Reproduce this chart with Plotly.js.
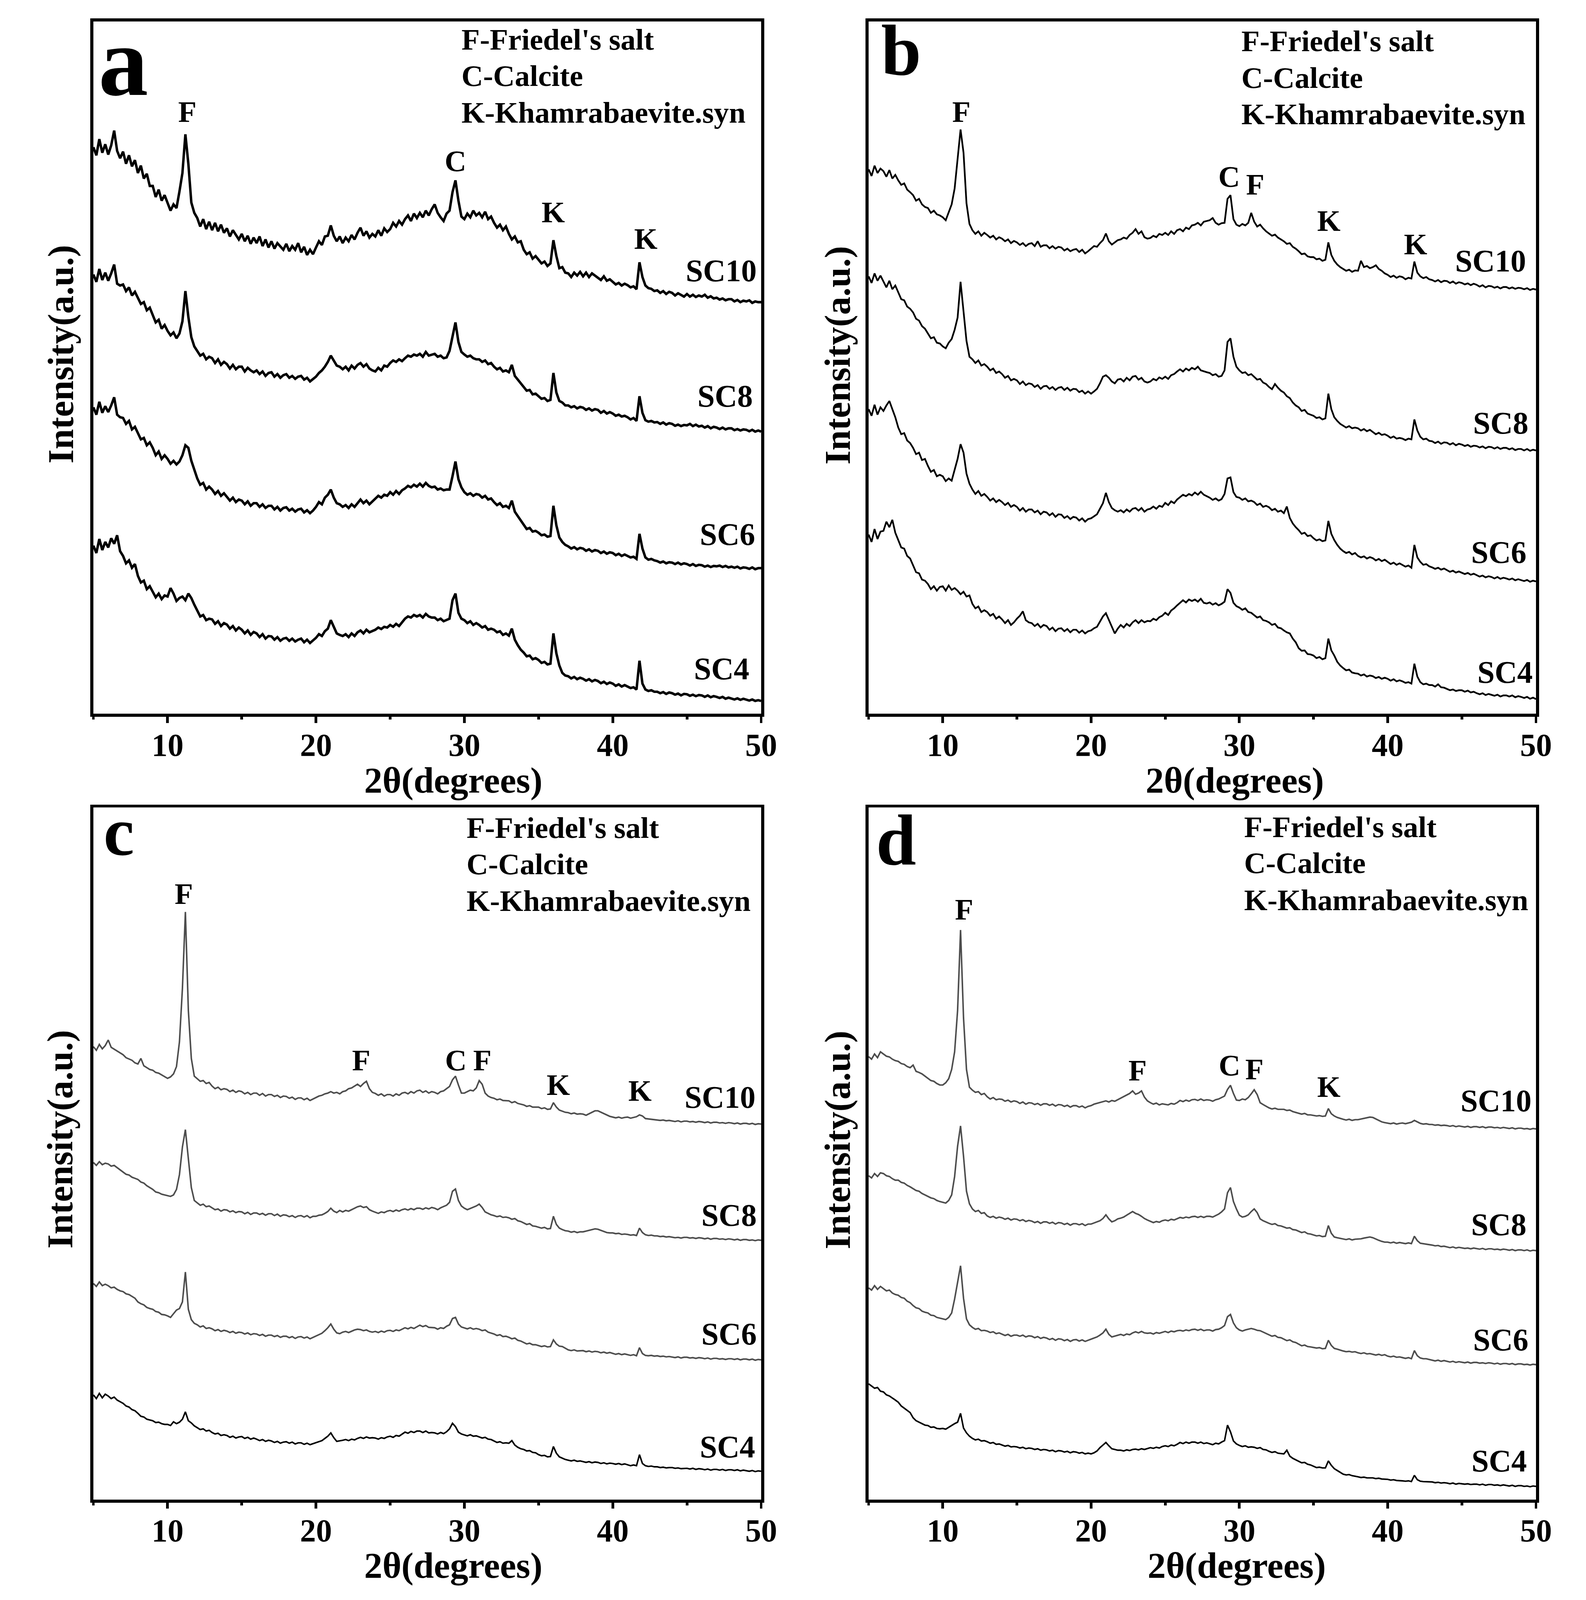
<!DOCTYPE html>
<html><head><meta charset="utf-8">
<script src="https://cdn.plot.ly/plotly-3.0.1.min.js"></script>
<style>html,body{margin:0;padding:0;background:#fff;overflow:hidden}</style>
</head><body><div id="chart"></div>
<script>
// 2-theta grid (degrees)
const theta = [5,5.2,5.4,5.6,5.8,6,6.2,6.4,6.6,6.8,7,7.2,7.4,7.6,7.8,8,8.2,8.4,8.6,8.8,9,9.2,9.4,9.6,9.8,
10,10.2,10.4,10.6,10.8,11,11.2,11.4,11.6,11.8,12,12.2,12.4,12.6,12.8,13,13.2,13.4,13.6,13.8,14,14.2,14.4,14.6,14.8,
15,15.2,15.4,15.6,15.8,16,16.2,16.4,16.6,16.8,17,17.2,17.4,17.6,17.8,18,18.2,18.4,18.6,18.8,19,19.2,19.4,19.6,19.8,
20,20.2,20.4,20.6,20.8,21,21.2,21.4,21.6,21.8,22,22.2,22.4,22.6,22.8,23,23.2,23.4,23.6,23.8,24,24.2,24.4,24.6,24.8,
25,25.2,25.4,25.6,25.8,26,26.2,26.4,26.6,26.8,27,27.2,27.4,27.6,27.8,28,28.2,28.4,28.6,28.8,29,29.2,29.4,29.6,29.8,
30,30.2,30.4,30.6,30.8,31,31.2,31.4,31.6,31.8,32,32.2,32.4,32.6,32.8,33,33.2,33.4,33.6,33.8,34,34.2,34.4,34.6,34.8,
35,35.2,35.4,35.6,35.8,36,36.2,36.4,36.6,36.8,37,37.2,37.4,37.6,37.8,38,38.2,38.4,38.6,38.8,39,39.2,39.4,39.6,39.8,
40,40.2,40.4,40.6,40.8,41,41.2,41.4,41.6,41.8,42,42.2,42.4,42.6,42.8,43,43.2,43.4,43.6,43.8,44,44.2,44.4,44.6,44.8,
45,45.2,45.4,45.6,45.8,46,46.2,46.4,46.6,46.8,47,47.2,47.4,47.6,47.8,48,48.2,48.4,48.6,48.8,49,49.2,49.4,49.6,49.8,50];

const samples = ['SC10','SC8','SC6','SC4'];

// Panel a (stacked intensity, a.u.)
const a_SC10 = [1540,1518,1562,1525,1548,1520,1545,1585,1530,1510,1528,1495,1518,1488,1505,1470,1490,1455,1468,1435,1435,1405,1425,1395,1410,
1390,1368,1385,1375,1420,1470,1575,1495,1390,1362,1348,1325,1345,1318,1338,1315,1335,1312,1330,1308,1320,1298,1315,1302,1290,
1305,1285,1300,1278,1295,1280,1298,1272,1290,1268,1285,1265,1280,1270,1262,1278,1258,1272,1262,1280,1255,1270,1248,1262,1250,
1268,1285,1275,1298,1300,1328,1300,1285,1298,1280,1295,1285,1302,1290,1308,1322,1300,1312,1295,1305,1298,1315,1300,1320,1310,
1318,1335,1325,1340,1330,1345,1355,1340,1360,1348,1362,1350,1368,1355,1372,1385,1362,1350,1340,1360,1368,1418,1450,1395,1352,
1345,1360,1350,1368,1355,1362,1350,1365,1345,1352,1335,1322,1330,1315,1325,1305,1290,1298,1282,1285,1262,1250,1255,1238,1245,
1235,1225,1230,1218,1225,1288,1245,1212,1215,1200,1198,1188,1200,1192,1202,1190,1200,1188,1198,1192,1188,1180,1190,1178,1182,
1175,1168,1172,1165,1170,1166,1160,1163,1155,1228,1188,1165,1158,1156,1150,1152,1145,1150,1142,1148,1145,1138,1144,1140,1135,
1142,1135,1140,1134,1138,1135,1140,1132,1136,1130,1132,1127,1130,1125,1128,1128,1122,1126,1120,1124,1122,1125,1118,1122,1120,1120];
const a_SC8 = [1195,1175,1210,1180,1200,1178,1198,1222,1170,1165,1168,1150,1160,1138,1148,1132,1115,1120,1098,1105,1085,1065,1072,1048,1058,
1042,1030,1038,1022,1035,1068,1150,1080,1025,1000,988,975,980,965,972,968,955,965,950,958,952,940,950,938,945,
945,932,942,935,930,935,925,932,920,928,930,918,925,915,922,925,915,920,912,918,920,910,915,905,912,
918,928,935,945,958,975,962,948,945,938,945,935,948,940,950,955,945,952,940,935,932,942,935,948,945,
955,962,958,965,960,968,975,972,978,975,980,972,985,975,978,980,972,975,968,970,988,1025,1065,1012,985,
978,972,975,968,965,965,958,962,952,955,945,938,942,932,935,930,950,920,910,900,890,880,882,870,872,
865,858,860,852,855,928,875,852,848,840,840,835,838,832,836,834,828,832,826,830,828,820,825,818,822,
818,812,815,810,812,808,802,806,798,865,820,800,796,798,794,795,790,794,788,792,790,785,788,784,787,
786,790,784,788,783,785,780,784,778,782,780,776,780,775,778,778,773,776,772,775,774,770,774,769,772,769];
const a_SC6 = [835,815,850,820,838,822,840,862,815,808,806,790,798,775,782,765,748,752,732,740,725,705,715,695,705,
695,682,690,680,688,705,732,725,690,665,642,625,630,612,620,612,600,608,595,602,592,582,590,578,585,
582,572,580,568,575,575,565,572,562,568,568,558,565,555,562,564,555,560,552,558,560,550,556,548,555,
565,578,572,590,598,612,590,575,572,565,570,562,572,565,575,585,575,582,572,580,588,595,590,598,595,
605,598,608,600,610,615,622,618,625,620,628,620,630,622,618,620,612,615,610,612,612,648,688,640,618,
605,598,602,595,600,598,590,595,585,588,578,570,575,565,568,562,582,552,540,528,515,505,508,498,500,
495,488,490,484,486,568,515,482,470,462,458,452,456,450,454,452,446,450,444,448,446,440,444,438,442,
440,434,438,432,436,432,428,430,424,492,452,428,422,424,420,418,414,417,412,415,414,410,414,409,412,
410,406,410,405,408,407,403,406,402,405,404,406,402,405,401,403,400,403,398,401,400,397,401,396,399,399];
const a_SC4 = [460,440,478,448,470,455,480,465,488,445,432,412,420,400,410,378,360,365,342,350,335,320,330,315,325,
322,345,330,310,318,322,312,330,318,300,282,268,272,258,262,260,248,255,242,250,246,235,242,230,238,
232,222,230,218,226,222,212,220,208,215,214,205,212,202,208,210,202,208,200,205,208,198,205,196,203,
210,220,215,228,235,258,238,222,218,215,220,212,222,215,225,230,222,232,225,228,232,238,234,240,238,
245,240,248,242,252,262,268,265,272,268,272,265,275,268,265,265,258,262,255,258,262,312,330,278,262,
258,250,255,245,250,245,238,242,232,235,232,225,228,218,222,216,235,205,190,178,170,160,162,152,155,
150,142,145,138,140,222,168,135,115,108,106,100,104,98,102,99,94,98,92,96,93,87,91,85,89,
86,80,84,78,82,78,74,76,70,148,86,70,66,68,64,64,60,63,58,62,60,56,59,54,58,
57,53,56,52,55,54,50,54,49,52,50,47,50,45,48,46,43,46,42,45,43,40,43,39,41,39];

// Panel b
const b_SC10 = [1480,1462,1490,1470,1482,1475,1460,1478,1455,1465,1450,1438,1442,1425,1418,1410,1395,1400,1385,1378,1375,1362,1368,1358,1355,
1350,1342,1365,1385,1428,1510,1588,1525,1388,1332,1315,1305,1312,1300,1308,1302,1295,1300,1290,1296,1292,1285,1290,1280,1286,
1282,1275,1280,1272,1278,1280,1272,1285,1270,1274,1274,1266,1272,1265,1270,1268,1260,1265,1258,1262,1264,1256,1262,1252,1258,
1265,1272,1270,1280,1288,1306,1285,1276,1282,1288,1290,1295,1292,1302,1308,1318,1305,1312,1296,1292,1294,1300,1296,1305,1302,
1308,1302,1312,1305,1315,1318,1312,1322,1318,1328,1330,1335,1328,1338,1340,1342,1348,1335,1330,1334,1335,1400,1410,1345,1330,
1326,1332,1328,1335,1362,1338,1325,1330,1320,1312,1306,1300,1303,1295,1290,1285,1278,1280,1270,1265,1258,1250,1252,1244,1242,
1242,1236,1238,1232,1235,1282,1248,1232,1222,1215,1210,1205,1208,1202,1206,1205,1232,1215,1218,1212,1215,1220,1210,1205,1198,
1194,1188,1192,1186,1190,1188,1182,1186,1184,1230,1200,1190,1185,1188,1182,1180,1176,1180,1174,1178,1177,1172,1176,1170,1174,
1172,1168,1171,1166,1170,1167,1162,1166,1160,1164,1163,1159,1162,1157,1161,1161,1157,1160,1156,1159,1158,1155,1158,1153,1156,1154];
const b_SC8 = [1190,1172,1198,1178,1192,1175,1160,1178,1155,1165,1145,1128,1125,1108,1102,1092,1075,1070,1055,1048,1035,1022,1025,1010,1008,
1000,995,1010,1020,1045,1078,1175,1095,1015,972,965,955,962,948,952,945,935,940,928,932,925,915,920,908,912,
908,898,905,895,900,898,890,895,885,892,893,885,890,882,888,890,882,888,880,885,884,876,880,872,878,
872,878,885,900,918,922,915,905,900,910,912,905,915,908,918,920,910,915,905,902,905,912,908,916,912,
918,912,922,925,932,938,932,940,935,942,938,945,935,932,930,928,922,925,918,920,935,1012,1022,972,945,
935,928,930,922,925,918,910,912,902,898,890,884,898,888,880,875,865,860,848,840,835,825,828,818,815,
812,806,808,802,805,872,830,808,798,790,785,780,784,778,780,778,772,776,770,774,768,762,766,760,762,
758,752,756,750,752,750,746,750,748,802,772,755,748,750,744,743,738,742,736,740,739,734,738,732,736,
734,730,733,728,731,730,726,729,724,728,727,723,727,722,725,725,721,724,719,722,722,718,722,717,720,718];
const b_SC6 = [830,812,842,815,835,825,840,852,830,808,780,762,765,745,738,725,708,712,692,695,676,660,665,648,652,
648,635,642,636,665,695,735,712,655,628,612,600,608,595,600,592,582,588,578,584,578,570,576,565,570,
565,555,562,552,558,558,550,555,545,552,550,542,548,538,545,544,535,540,532,538,536,528,534,525,532,
534,540,545,560,575,603,578,562,556,552,556,550,558,552,560,562,555,562,552,558,560,566,560,568,565,
576,570,580,575,585,592,598,594,600,596,604,598,606,598,594,590,584,588,582,586,600,642,645,605,592,
590,584,588,580,582,578,570,574,565,568,564,556,560,552,555,548,566,535,520,510,502,492,495,486,488,
480,474,477,472,474,527,492,475,462,452,445,440,443,436,440,432,428,431,425,429,426,420,424,418,422,
416,410,414,408,412,407,403,406,400,462,428,416,408,410,404,401,397,400,395,398,393,389,392,387,390,
387,383,386,381,384,380,376,379,374,377,375,371,375,370,373,371,368,371,366,369,367,364,367,362,365,363];
const b_SC4 = [490,470,505,478,498,500,525,510,530,495,475,455,452,432,425,405,388,385,368,365,356,342,350,338,348,
350,338,352,340,345,338,328,335,322,325,302,290,295,280,285,280,270,275,262,268,260,250,258,245,252,
262,270,282,258,252,250,242,248,238,245,242,232,238,228,235,236,228,234,225,232,232,224,230,222,228,
230,236,240,255,268,277,258,240,222,235,245,238,248,242,252,258,250,258,252,256,255,262,258,266,270,
278,272,284,290,298,305,312,306,314,310,314,308,316,305,303,306,300,304,298,302,308,342,332,305,296,
292,286,290,280,278,272,265,268,258,256,252,245,248,238,236,230,225,222,208,198,182,175,176,166,165,
162,155,158,152,155,208,176,162,145,135,128,122,124,116,114,113,108,111,105,108,106,101,104,99,102,
99,94,98,92,95,92,88,90,86,140,105,90,84,86,82,82,78,84,76,75,72,68,70,66,68,
68,64,67,62,64,60,57,60,55,58,56,53,56,51,54,54,51,54,49,52,50,47,50,45,48,44];

// Panel c
const c_SC10 = [1232,1222,1238,1226,1235,1250,1230,1225,1220,1215,1210,1202,1198,1195,1188,1185,1200,1180,1175,1170,1168,1162,1160,1155,1150,
1146,1150,1158,1178,1245,1390,1597,1330,1200,1152,1145,1138,1140,1132,1135,1125,1118,1122,1115,1118,1116,1110,1114,1108,1112,
1110,1104,1108,1102,1106,1106,1100,1105,1098,1102,1102,1097,1100,1094,1098,1097,1092,1095,1089,1093,1093,1088,1092,1086,1090,
1094,1098,1100,1104,1106,1110,1106,1108,1104,1110,1112,1118,1120,1125,1130,1124,1132,1138,1118,1108,1105,1100,1104,1098,1102,
1102,1098,1104,1100,1106,1108,1104,1110,1106,1112,1114,1108,1112,1106,1110,1108,1104,1110,1112,1118,1124,1142,1152,1128,1106,
1106,1110,1114,1112,1120,1140,1130,1106,1098,1094,1092,1088,1090,1086,1085,1085,1080,1083,1078,1076,1074,1070,1072,1068,1068,
1068,1064,1066,1062,1063,1080,1068,1060,1057,1054,1053,1050,1052,1049,1050,1049,1046,1050,1054,1058,1058,1054,1050,1046,1043,
1041,1039,1041,1038,1040,1041,1038,1040,1042,1047,1044,1037,1036,1035,1034,1034,1032,1033,1031,1032,1031,1029,1031,1028,1030,
1030,1028,1029,1027,1029,1028,1026,1028,1025,1027,1027,1025,1026,1024,1026,1025,1023,1025,1022,1024,1024,1022,1024,1021,1023,1022];
const c_SC8 = [918,910,920,912,916,914,908,910,904,898,892,886,884,878,875,872,865,862,855,850,845,838,836,832,830,
828,826,830,845,885,960,1007,930,850,815,808,802,805,798,800,795,790,792,786,790,789,784,787,782,785,
784,779,783,777,781,781,777,780,775,779,779,774,778,772,776,775,771,774,769,773,774,770,774,768,772,
772,775,776,780,785,794,786,782,788,784,788,786,790,794,798,800,796,798,790,786,783,780,784,782,786,
788,785,789,786,790,792,789,793,790,794,794,791,795,792,796,794,790,795,798,802,810,840,846,815,800,
794,790,793,796,800,805,796,784,780,776,774,771,773,769,770,768,764,766,760,758,754,750,752,746,745,
743,740,742,738,739,772,750,740,736,733,732,729,731,728,730,730,732,734,737,738,737,734,731,728,727,
727,725,726,723,724,723,721,722,720,740,728,722,720,721,719,719,717,718,716,717,716,714,715,713,715,
715,713,714,712,714,713,711,713,710,712,712,710,711,709,711,710,708,710,707,709,709,707,708,706,708,707];
const c_SC6 = [590,582,594,584,588,584,578,580,574,570,568,562,560,555,550,540,535,532,525,522,520,514,512,506,505,
502,498,508,518,522,540,621,520,492,482,478,472,475,468,470,467,462,465,460,463,461,457,460,455,458,
457,453,456,451,454,453,449,452,447,450,450,446,449,444,447,447,443,446,441,445,446,442,445,440,444,
448,452,455,462,470,480,466,456,454,458,460,457,461,464,466,465,462,464,460,458,460,457,461,458,462,
463,460,464,462,466,470,467,471,468,473,477,473,476,471,470,470,466,470,468,474,478,495,498,480,472,
470,467,470,466,468,466,462,464,458,456,453,449,451,446,447,444,440,442,436,434,430,426,428,424,424,
422,419,421,418,419,437,426,420,419,414,410,408,410,407,408,408,405,407,404,406,405,402,404,401,403,
401,398,400,397,399,397,395,397,394,416,400,395,394,395,393,394,392,393,391,392,391,389,391,388,390,
390,388,389,387,389,388,386,388,385,387,387,385,386,384,386,386,384,386,383,385,385,383,385,382,384,383];
const c_SC4 = [288,278,292,280,290,285,278,282,274,270,265,258,255,248,245,238,230,228,222,220,218,213,214,210,208,
208,205,215,210,214,222,242,218,212,204,199,194,196,190,192,186,182,184,178,180,178,173,176,171,174,
175,170,173,168,171,168,164,167,162,165,163,159,162,157,160,161,157,160,155,158,158,154,157,153,156,
158,161,164,170,176,185,172,162,163,165,167,164,168,166,170,173,170,174,171,172,171,168,172,170,174,
176,173,178,176,181,187,184,189,186,190,190,186,190,185,186,185,182,186,183,188,196,211,202,187,182,
180,177,180,176,177,174,171,173,168,167,163,159,161,157,158,157,164,152,146,142,140,136,137,132,131,
126,123,124,120,121,148,130,120,116,113,111,109,111,108,109,107,105,107,104,106,105,102,104,101,103,
102,100,102,99,101,98,96,98,96,126,102,96,94,95,93,93,91,92,90,91,91,89,90,88,89,
89,87,89,86,88,87,85,87,84,86,86,84,86,83,85,85,83,85,82,84,83,81,83,80,82,81];

// Panel d
const d_SC10 = [1205,1198,1212,1202,1218,1212,1206,1204,1198,1194,1192,1186,1184,1178,1175,1182,1165,1162,1158,1152,1146,1140,1138,1132,1128,
1128,1134,1145,1170,1218,1330,1548,1310,1170,1122,1114,1108,1110,1102,1105,1096,1090,1094,1088,1090,1089,1084,1087,1082,1085,
1083,1078,1082,1076,1080,1079,1075,1078,1073,1077,1077,1073,1076,1071,1075,1074,1070,1073,1068,1072,1072,1068,1071,1066,1070,
1072,1076,1078,1080,1082,1085,1082,1086,1084,1088,1092,1096,1100,1105,1112,1103,1106,1112,1095,1085,1080,1076,1079,1074,1077,
1076,1074,1078,1076,1080,1086,1083,1087,1084,1088,1089,1086,1090,1086,1088,1087,1084,1088,1090,1094,1098,1116,1127,1105,1087,
1086,1090,1088,1094,1104,1115,1102,1080,1075,1070,1066,1063,1065,1062,1062,1062,1059,1060,1056,1054,1052,1049,1051,1047,1047,
1046,1044,1045,1043,1044,1064,1050,1044,1040,1037,1035,1033,1035,1032,1034,1034,1036,1038,1040,1041,1040,1036,1032,1028,1026,
1025,1023,1025,1022,1024,1025,1023,1025,1027,1032,1028,1024,1022,1023,1021,1021,1019,1020,1018,1019,1018,1016,1018,1015,1017,
1016,1014,1016,1013,1015,1015,1013,1015,1012,1014,1014,1012,1013,1011,1013,1012,1010,1012,1009,1011,1011,1009,1010,1008,1010,1009];
const d_SC8 = [882,876,888,880,890,888,882,880,874,870,870,864,862,856,852,847,842,840,834,830,826,822,820,815,812,
810,808,815,830,880,962,1017,935,840,806,792,785,788,780,782,773,769,772,767,770,768,764,767,762,765,
764,760,763,758,761,759,755,758,753,757,757,753,756,751,755,754,750,753,748,752,752,749,752,747,751,
751,754,756,760,766,776,765,757,760,765,767,770,775,780,785,780,777,772,766,762,758,755,758,756,760,
762,760,764,762,766,769,767,770,768,771,772,769,772,769,772,772,770,774,778,784,792,836,850,812,792,
775,770,772,776,785,792,782,765,760,756,753,750,752,747,746,743,740,741,736,735,731,728,730,725,724,
721,719,720,717,718,747,726,716,714,712,711,709,711,708,710,710,711,713,715,716,714,710,707,704,702,
702,700,702,699,701,700,698,700,698,718,706,699,698,697,696,694,692,693,690,691,689,687,689,686,688,
687,685,686,684,686,685,683,685,682,684,684,682,683,681,683,682,680,682,679,681,681,679,681,678,680,679];
const d_SC6 = [578,572,584,574,582,576,570,572,564,560,558,552,550,542,538,530,524,522,515,512,510,504,503,498,496,
494,492,498,510,548,596,638,550,494,478,471,466,468,462,463,461,457,459,454,456,453,449,452,447,450,
450,447,450,445,448,447,443,446,441,444,442,438,441,436,440,439,435,438,433,437,438,434,437,433,436,
438,442,445,450,456,466,452,445,447,450,452,449,453,451,456,459,456,460,456,455,456,453,457,455,458,
460,457,461,459,462,463,461,464,462,465,466,463,466,462,464,464,461,465,466,470,476,500,506,483,470,
464,461,464,466,468,466,463,462,458,454,451,447,449,444,443,439,435,437,432,430,425,421,423,419,418,
417,415,416,413,414,436,422,414,412,409,407,405,406,404,405,402,400,402,399,400,398,396,398,395,397,
393,391,393,390,391,389,387,389,386,408,394,388,386,386,384,382,380,382,379,381,379,377,379,376,378,
377,375,377,374,376,376,374,375,373,375,374,372,374,371,373,373,371,373,370,372,372,370,371,369,371,370];
const d_SC4 = [318,312,306,308,298,296,288,285,280,274,268,258,252,246,240,226,218,214,210,206,205,200,201,197,196,
197,195,200,206,210,214,238,198,185,176,170,166,168,163,164,161,157,159,154,155,152,149,151,147,148,
147,144,146,142,144,143,140,142,138,140,139,136,138,134,137,136,133,135,131,134,133,130,132,128,130,
128,131,136,145,152,159,150,142,140,138,138,136,139,137,140,141,139,142,140,143,145,143,146,144,148,
150,148,152,150,154,159,156,160,157,160,160,157,160,156,158,156,153,157,155,160,164,206,188,163,155,
151,148,150,146,147,146,143,145,140,139,135,132,134,130,129,128,138,122,116,112,108,104,105,100,98,
94,91,92,90,90,109,97,88,83,78,73,71,72,69,68,66,64,65,63,63,63,61,62,60,60,
59,57,58,56,56,55,54,55,53,70,58,54,53,53,52,52,50,51,49,50,49,47,49,46,48,
47,46,47,45,46,46,44,46,43,45,45,43,44,42,44,43,41,43,40,42,42,40,41,39,41,40];

// reference frame (pixels) -> paper fractions; drawn at the actual viewport size
const RW = 4059, RH = 4337;
const W = window.innerWidth || RW, H = window.innerHeight || RH;
const F = Math.sqrt((W / RW) * (H / RH));
const FONT = 'Liberation Serif';
const px = v => v / RW;
const py = v => 1 - v / RH;
const el = document.getElementById('chart');
el.style.width = W + 'px'; el.style.height = H + 'px';

const panels = [
  {key:'a', xa:'x',  ya:'y',  data:[a_SC10,a_SC8,a_SC6,a_SC4], colors:['#000','#000','#000','#000'], lw:6.5},
  {key:'b', xa:'x2', ya:'y2', data:[b_SC10,b_SC8,b_SC6,b_SC4], colors:['#000','#000','#000','#000'], lw:4.5},
  {key:'c', xa:'x3', ya:'y3', data:[c_SC10,c_SC8,c_SC6,c_SC4], colors:['#4d4d4d','#4d4d4d','#4d4d4d','#000'], lw:4},
  {key:'d', xa:'x4', ya:'y4', data:[d_SC10,d_SC8,d_SC6,d_SC4], colors:['#4d4d4d','#4d4d4d','#4d4d4d','#000'], lw:4}
];

const traces = [];
panels.forEach(p => {
  p.data.forEach((ys, i) => {
    traces.push({x: theta, y: ys, xaxis: p.xa, yaxis: p.ya, type: 'scatter', mode: 'lines',
      name: p.key + '-' + samples[i], showlegend: false, hoverinfo: 'skip',
      line: {color: p.colors[i], width: p.lw * F}});
  });
});

function xAx(l, r, anchor) {
  return {domain: [px(l), px(r)], anchor: anchor, range: [5, 50], showgrid: false, zeroline: false,
    showline: true, linecolor: '#000', linewidth: 8 * F, mirror: true,
    ticks: 'outside', ticklen: 16 * F, tickwidth: 7 * F, tickcolor: '#000', dtick: 10, tick0: 0,
    ticklabelstandoff: Math.round(-14 * F),
    tickfont: {family: FONT, size: 84 * F, color: '#000', weight: 'bold'},
    minor: {dtick: 5, tick0: 0, ticks: 'outside', ticklen: 7 * F, tickwidth: 7 * F, tickcolor: '#000', showgrid: false},
    fixedrange: true};
}
function yAx(t, b, anchor, top) {
  return {domain: [py(b), py(t)], anchor: anchor, range: [4, top], showgrid: false, zeroline: false,
    showline: true, linecolor: '#000', linewidth: 8 * F, mirror: true, ticks: '', showticklabels: false, fixedrange: true};
}

const ann = [];
function txt(x, y, text, size, xanchor, angle) {
  ann.push({xref: 'paper', yref: 'paper', x: px(x), y: py(y), text: text, showarrow: false,
    xanchor: xanchor || 'center', yanchor: 'middle', textangle: angle || 0,
    font: {family: FONT, size: size * F, color: '#000', weight: 'bold'}});
}
// panel letters
txt(250, 166, 'a', 262, 'left');
txt(2253, 136, 'b', 190, 'left');
txt(263, 2253, 'c', 182, 'left');
txt(2240, 2277, 'd', 190, 'left');
// phase legends
const legendLines = ["F-Friedel's salt", 'C-Calcite', 'K-Khamrabaevite.syn'];
[[1179, [108, 206, 306]], [3175, [112, 211, 310]], [1192, [2244, 2343, 2442]], [3182, [2242, 2340, 2440]]]
  .forEach(([x, ys]) => ys.forEach((y, i) => txt(x, y, legendLines[i], 79, 'left')));
// peak labels
[[479,303,'F'],[1165,437,'C'],[1416,576,'K'],[1653,648,'K'],
 [2460,303,'F'],[3145,479,'C'],[3212,500,'F'],[3401,599,'K'],[3623,662,'K'],
 [470,2423,'F'],[924,2874,'F'],[1166,2874,'C'],[1234,2874,'F'],[1429,2941,'K'],[1638,2957,'K'],
 [2467,2465,'F'],[2911,2902,'F'],[3146,2888,'C'],[3210,2899,'F'],[3401,2946,'K']]
  .forEach(([x, y, t]) => txt(x, y, t, 79, 'center'));
// sample labels
[[1939,734],[1929,1074],[1935,1448],[1920,1813],
 [3908,707],[3914,1147],[3909,1497],[3925,1822],
 [1936,2974],[1939,3294],[1939,3616],[1935,3922],
 [3922,2984],[3909,3319],[3914,3632],[3910,3960]]
  .forEach(([x, y], i) => txt(x, y, samples[i % 4], 82, 'right'));
// axis titles
[[1160, 2115], [3160, 2115], [1160, 4243], [3165, 4243]].forEach(([x, y]) => txt(x, y, '2θ(degrees)', 96, 'center'));
[[156, 960], [2143, 963], [153, 3088], [2143, 3090]].forEach(([x, y]) => txt(x, y, 'Intensity(a.u.)', 96, 'center', -90));

const layout = {
  width: W, height: H, margin: {l: 0, r: 0, t: 0, b: 0}, paper_bgcolor: '#fff', plot_bgcolor: '#fff',
  showlegend: false,
  xaxis: xAx(239, 1948, 'y'), yaxis: yAx(58, 1935, 'x', 1881),
  xaxis2: xAx(2223, 3931, 'y2'), yaxis2: yAx(58, 1935, 'x2', 1881),
  xaxis3: xAx(239, 1948, 'y3'), yaxis3: yAx(2189, 4065, 'x3', 1880),
  xaxis4: xAx(2223, 3931, 'y4'), yaxis4: yAx(2189, 4065, 'x4', 1880),
  annotations: ann
};
Plotly.newPlot('chart', traces, layout, {staticPlot: true, displayModeBar: false});
</script></body></html>
